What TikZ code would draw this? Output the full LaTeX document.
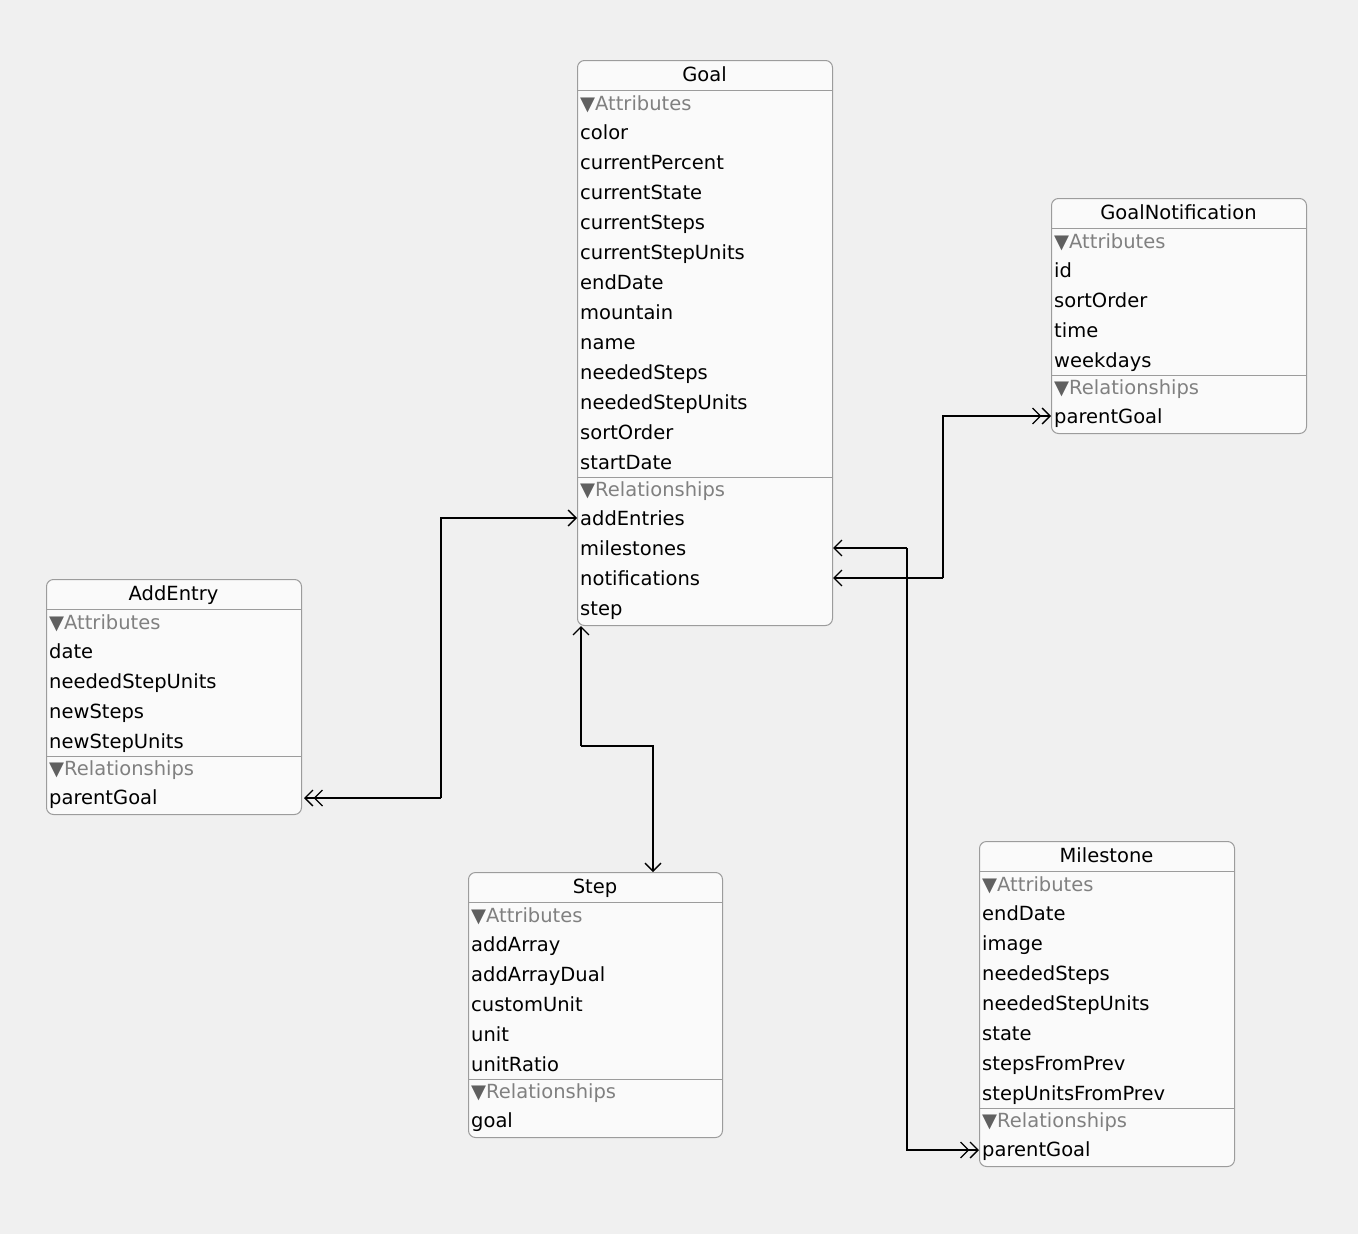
\documentclass[tikz,border=0pt]{standalone}
\usepackage{fontspec}
\setmainfont{DejaVu Sans}
\newfontfamily\symf{DejaVu Sans}
\usetikzlibrary{arrows.meta}
\definecolor{bg}{HTML}{F0F0F0}
\definecolor{boxfill}{HTML}{FAFAFA}
\definecolor{boxline}{HTML}{9C9C9C}
\definecolor{secgray}{HTML}{808080}
\definecolor{trigray}{HTML}{606060}
\newcommand\entity[8]{% name, x, top, width, title, attrs, rels, n+m
  \pgfmathsetmacro\eb{#3+85+30*#8}
  \node[box, minimum width=#4pt, minimum height={(\eb-#3)*1pt}, anchor=north west] (#1) at (#2,#3) {};
  \draw[boxline, line width=1pt] (#2,#3+30) -- (#2+#4,#3+30);
  \node[txt, anchor=base] (#1-title) at (#2+#4/2,#3+21) {#5};
  \node[sec] (#1-attrhdr) at (#2+3,#3+50) {{\color{trigray}▼}Attributes};
  \foreach \a [count=\i] in {#6} {
    \node[txt] (#1-\a) at (#2+3,#3+49+30*\i) {\a};
    \xdef\elast{\i}
  }
  \pgfmathsetmacro\ed{#3+42+30*\elast+15}
  \draw[boxline, line width=1pt] (#2,\ed) -- (#2+#4,\ed);
  \node[sec] (#1-relhdr) at (#2+3,\ed+19) {{\color{trigray}▼}Relationships};
  \foreach \r [count=\j] in {#7} {
    \node[txt] (#1-\r) at (#2+3,\ed+48+30*\j-30) {\r};
  }
}
\begin{document}
\begin{tikzpicture}[x=1pt,y=-1pt,
  box/.style={draw=boxline, fill=boxfill, rounded corners=7pt, line width=1pt, inner sep=0pt},
  txt/.style={anchor=base west, inner sep=0pt, font=\fontsize{19.5}{22}\selectfont, text=black},
  sec/.style={anchor=base west, inner sep=0pt, font=\fontsize{19.5}{22}\selectfont, text=secgray},
  conn/.style={line width=1.3pt, black},
  one/.style={-{Straight Barb[length=8pt,width=16pt]}},
  many/.style={-{Straight Barb[length=8pt,width=16pt]Straight Barb[length=8pt,width=16pt]}}]
\fill[bg] (0,0) rectangle (1358,1234);
\useasboundingbox (0,0) rectangle (1358,1234);
\entity{Goal}{577}{60}{255}{Goal}{color,currentPercent,currentState,currentSteps,currentStepUnits,endDate,mountain,name,neededSteps,neededStepUnits,sortOrder,startDate}{addEntries,milestones,notifications,step}{16}
\entity{GN}{1051}{198}{255}{GoalNotification}{id,sortOrder,time,weekdays}{parentGoal}{5}
\entity{AE}{46}{579}{255}{AddEntry}{date,neededStepUnits,newSteps,newStepUnits}{parentGoal}{5}
\entity{St}{468}{872}{254}{Step}{addArray,addArrayDual,customUnit,unit,unitRatio}{goal}{6}
\entity{Ms}{979}{841}{255}{Milestone}{endDate,image,neededSteps,neededStepUnits,state,stepsFromPrev,stepUnitsFromPrev}{parentGoal}{8}
% AddEntry <-> Goal.addEntries
\coordinate (c1) at (441,798);
\coordinate (c2) at (441,518);
\draw[conn,one] (c1) -- (c2) -- (Goal.west |- c2);
\draw[conn,many] (c1) -- ([xshift=2pt]AE.east |- c1);
% Goal.step <-> Step
\coordinate (s1) at (581,746);
\coordinate (s2) at (653,746);
\draw[conn,one] (s1) -- (s1 |- Goal.south);
\draw[conn,one] (s1) -- (s2) -- (s2 |- St.north);
% milestones
\coordinate (m1) at (907,548);
\coordinate (m2) at (907,1150);
\draw[conn,one] (m1) -- (Goal.east |- m1);
\draw[conn,many] (m1) -- (m2) -- (Ms.west |- m2);
% notifications
\coordinate (n1) at (943,578);
\coordinate (n2) at (943,416);
\draw[conn,one] (n1) -- (Goal.east |- n1);
\draw[conn,many] (n1) -- (n2) -- (GN.west |- n2);
\end{tikzpicture}
\end{document}
